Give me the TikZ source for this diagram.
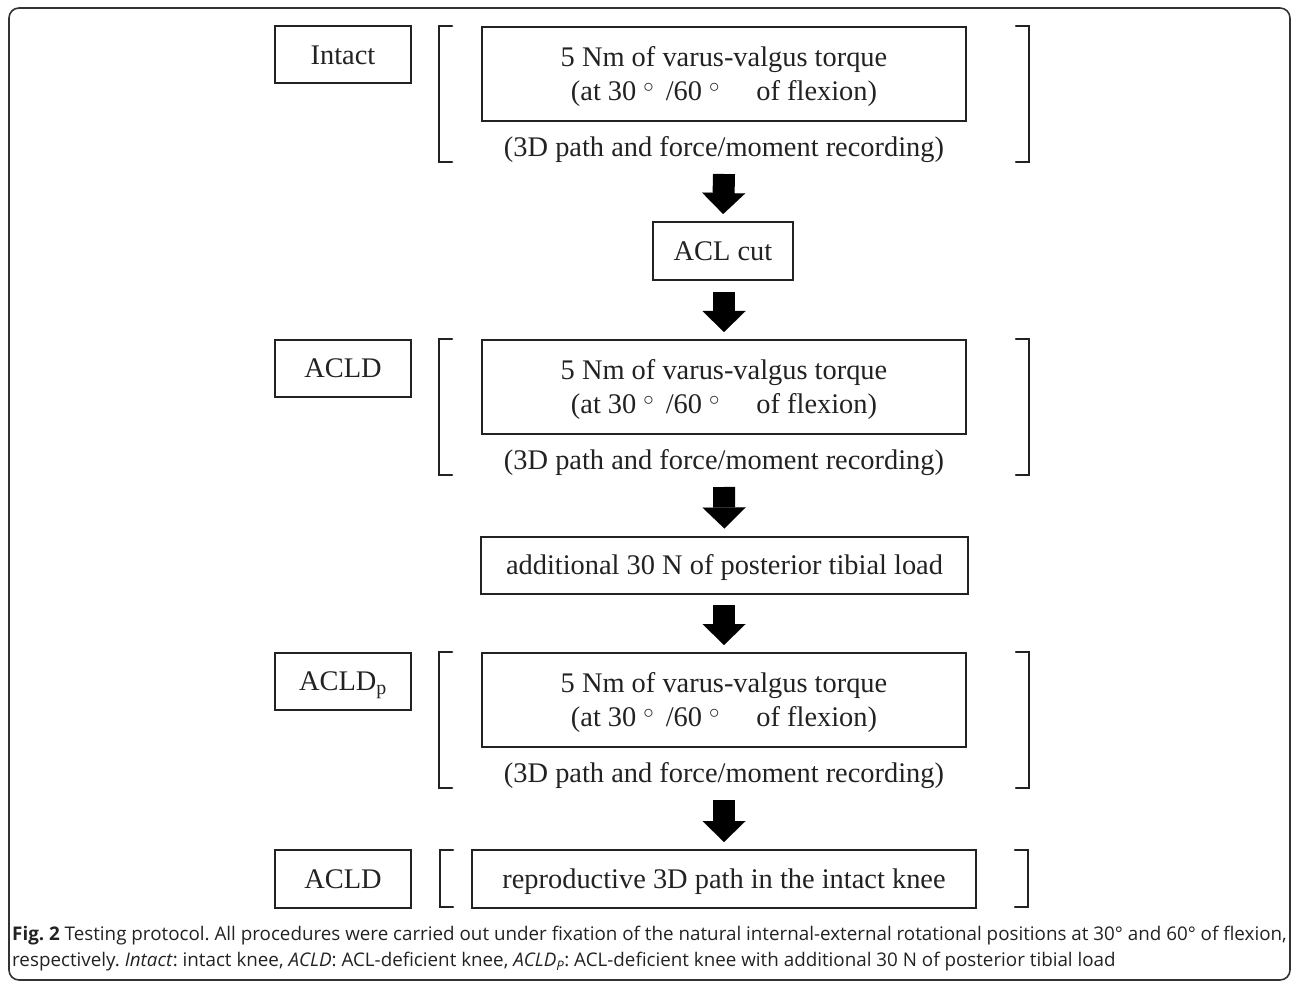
\documentclass[tikz,border=0pt]{standalone}
\usepackage{fontspec}
\setmainfont{Liberation Serif}
\newfontfamily\capfont{Open Sans}
\usetikzlibrary{arrows.meta}
\frenchspacing
\definecolor{ink}{HTML}{222222}
\definecolor{frame}{HTML}{333333}
\tikzset{
  serif/.style={font=\fontsize{28.4}{34}\selectfont, text=ink},
  oneline/.style={text height=18.8pt, text depth=0pt},
  labelbox/.style={draw=ink, line width=2pt, minimum width=136pt, minimum height=57pt, inner sep=0pt, serif, oneline},
  mainbox/.style={draw=ink, line width=2pt, minimum width=484pt, minimum height=94pt, inner sep=0pt, serif},
  stepbox/.style={draw=ink, line width=2pt, inner sep=0pt, serif, oneline},
  plaintext/.style={inner sep=0pt, serif, oneline},
  brk/.style={draw=ink, line width=2.5pt, line cap=round, line join=miter},
  blockarrow/.style={draw=black, line width=22pt, shorten >=7pt,
    -{Triangle[length=21pt,width=43pt,line width=0.01pt]}},
  captext/.style={inner sep=0pt, anchor=west, font=\capfont\fontsize{18.8}{24}\selectfont, text=ink}
}
\newcommand{\degsym}{\raisebox{0.6ex}[0pt][0pt]{\fontsize{20}{20}\selectfont$\circ$}}
\newcommand{\vvtext}{\raisebox{-2.5pt}[\height][\depth]{\begin{tabular}{@{}c@{}}5 Nm of varus-valgus torque\\(at 30\hspace{7pt}\degsym\hspace{12pt}/60\hspace{7pt}\degsym\hspace{37pt}of flexion)\end{tabular}}}
\begin{document}
\begin{tikzpicture}[x=1pt,y=-1pt]
\useasboundingbox (0,0) rectangle (1292,981);
\draw[frame, line width=1.6pt, rounded corners=10pt] (9,8) rectangle (1290,980);

% section 1
\node[labelbox] (intact) at (343,55) {Intact};
\node[mainbox] (vv1) at (724,74) {\vvtext};
\node[plaintext] (rec1) at (724,147) {(3D path and force/moment recording)};
\draw[brk] (452,26) -- (439,26) -- (439,162) -- (452,162);
\draw[brk] (1016,26) -- (1029,26) -- (1029,162) -- (1016,162);
\coordinate (a1) at (724,174);

\node[stepbox, minimum width=140pt, minimum height=58pt] (cut) at (723,251) {ACL cut};
\coordinate (a2) at (724,292);

% section 2
\node[labelbox] (acld) at (343,368) {ACLD};
\node[mainbox] (vv2) at (724,387) {\vvtext};
\node[plaintext] (rec2) at (724,460) {(3D path and force/moment recording)};
\draw[brk] (452,339) -- (439,339) -- (439,475) -- (452,475);
\draw[brk] (1016,339) -- (1029,339) -- (1029,475) -- (1016,475);
\coordinate (a3) at (724,487);

\node[stepbox, minimum width=487pt, minimum height=57pt] (load) at (724.5,565) {additional 30 N of posterior tibial load};
\coordinate (a4) at (724,605);

% section 3
\node[labelbox] (acldp) at (343,681) {ACLD\textsubscript{p}};
\node[mainbox] (vv3) at (724,700) {\vvtext};
\node[plaintext] (rec3) at (724,773) {(3D path and force/moment recording)};
\draw[brk] (452,652) -- (439,652) -- (439,788) -- (452,788);
\draw[brk] (1016,652) -- (1029,652) -- (1029,788) -- (1016,788);
\coordinate (a5) at (724,800);

% section 4
\node[labelbox, minimum height=58pt] (acld2) at (343,879) {ACLD};
\node[stepbox, minimum width=504pt, minimum height=58pt] (repro) at (724,879) {reproductive 3D path in the intact knee};
\draw[brk] (453,850) -- (440,850) -- (440,907) -- (453,907);
\draw[brk] (1015,850) -- (1028,850) -- (1028,907) -- (1015,907);

% arrows
\draw[blockarrow] (a1) -- (cut.north);
\draw[blockarrow] (a2) -- (724,339);
\draw[blockarrow] (a3) -- (load.north);
\draw[blockarrow] (a4) -- (724,652);
\draw[blockarrow] (a5) -- (repro.north);

% caption
\node[captext] (cap1) at (12,936) {\textbf{Fig. 2} Testing protocol. All procedures were carried out under fixation of the natural internal-external rotational positions at 30° and 60° of flexion,};
\node[captext] (cap2) at (12,962) {respectively. \textit{Intact}: intact knee, \textit{ACLD}: ACL-deficient knee, \textit{ACLD\textsubscript{P}}: ACL-deficient knee with additional 30 N of posterior tibial load};
\end{tikzpicture}
\end{document}
